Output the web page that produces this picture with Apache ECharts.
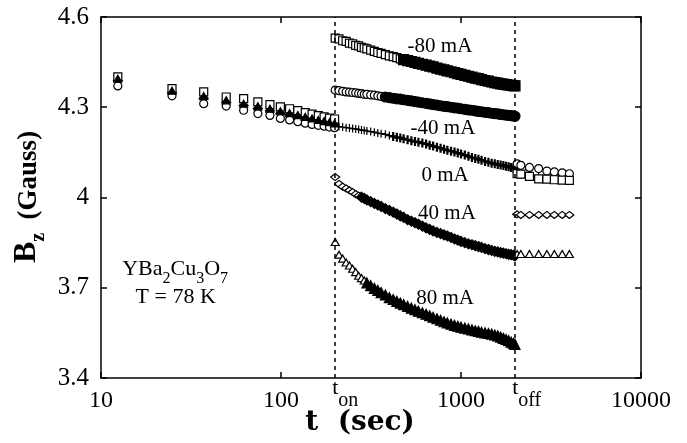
<!DOCTYPE html>
<html>
<head>
<meta charset="utf-8">
<script src="https://cdn.jsdelivr.net/npm/echarts@6/dist/echarts.min.js"></script>
<style>
  html, body { margin: 0; padding: 0; background: #fff; }
  #chart { width: 687px; height: 443px; }
</style>
</head>
<body>
<div id="chart"></div>
<script>
// sample times (sec): before current on, while on, after off
const tPre = [12.4, 24.8, 37.2, 49.6, 62, 74.4, 86.8, 99.2, 111.6, 124, 136.4, 148.8, 161.2, 173.6, 186, 198.4];
const tOn = [200, 210, 220, 230, 240, 250, 260, 270, 280, 290, 300, 315, 330, 345, 360, 380, 400, 420, 440, 460,
  480, 505, 530, 555, 580, 610, 640, 670, 700, 735, 770, 805, 840, 880, 920, 960, 1000, 1050, 1100, 1150,
  1200, 1250, 1300, 1360, 1420, 1480, 1540, 1600, 1660, 1720, 1780, 1840, 1900, 1960, 1995];
const tOff = [2050, 2150, 2400, 2700, 3000, 3300, 3650, 4000];
const tSwitch = [200, 2000]; // t_on, t_off

// Bz (Gauss) for -80 mA (squares)
const m80Pre = [4.401, 4.362, 4.351, 4.334, 4.329, 4.318, 4.309, 4.301, 4.295, 4.289, 4.282, 4.277, 4.272, 4.268, 4.264, 4.261];
const m80On = [4.530, 4.527, 4.521, 4.519, 4.513, 4.511, 4.506, 4.504, 4.499, 4.497, 4.494, 4.490, 4.486, 4.482, 4.479, 4.475, 4.471, 4.468, 4.465, 4.461,
  4.458, 4.455, 4.452, 4.449, 4.446, 4.443, 4.440, 4.437, 4.434, 4.430, 4.427, 4.424, 4.421, 4.418, 4.415, 4.412, 4.409, 4.406, 4.403, 4.400,
  4.397, 4.395, 4.392, 4.389, 4.387, 4.384, 4.382, 4.380, 4.378, 4.377, 4.375, 4.374, 4.373, 4.372, 4.371];
const m80Off = [4.079, 4.078, 4.070, 4.062, 4.061, 4.059, 4.058, 4.057];

// -40 mA (circles)
const m40Pre = [4.371, 4.338, 4.312, 4.304, 4.290, 4.279, 4.273, 4.263, 4.258, 4.252, 4.247, 4.243, 4.240, 4.237, 4.234, 4.232];
const m40On = [4.357, 4.355, 4.353, 4.351, 4.350, 4.349, 4.348, 4.346, 4.345, 4.343, 4.343, 4.341, 4.340, 4.338, 4.336, 4.334, 4.332, 4.330, 4.328, 4.327,
  4.325, 4.323, 4.321, 4.319, 4.317, 4.315, 4.313, 4.311, 4.309, 4.307, 4.305, 4.303, 4.302, 4.300, 4.298, 4.297, 4.295, 4.293, 4.291, 4.290,
  4.288, 4.286, 4.285, 4.283, 4.282, 4.280, 4.279, 4.278, 4.276, 4.275, 4.274, 4.273, 4.272, 4.271, 4.270];
const m40Off = [4.112, 4.107, 4.100, 4.096, 4.088, 4.085, 4.082, 4.079];

// 0 mA (plus)
const z0Pre = [4.392, 4.352, 4.334, 4.320, 4.310, 4.300, 4.292, 4.284, 4.277, 4.271, 4.266, 4.260, 4.256, 4.252, 4.248, 4.245];
const z0On = [4.238, 4.236, 4.234, 4.232, 4.231, 4.229, 4.228, 4.226, 4.224, 4.223, 4.221, 4.219, 4.217, 4.214, 4.212, 4.210, 4.206, 4.203, 4.200, 4.198,
  4.195, 4.192, 4.189, 4.186, 4.184, 4.181, 4.178, 4.174, 4.171, 4.167, 4.164, 4.160, 4.157, 4.154, 4.151, 4.148, 4.145, 4.141, 4.137, 4.133,
  4.130, 4.127, 4.124, 4.120, 4.117, 4.114, 4.112, 4.110, 4.108, 4.106, 4.104, 4.102, 4.100, 4.098, 4.097];
const z0Off = [4.090, 4.085, 4.075, 4.070, 4.065, 4.063, 4.062, 4.055];

// 40 mA (diamonds)
const p40Pre = [4.388, 4.348, 4.330, 4.316, 4.306, 4.296, 4.288, 4.280, 4.274, 4.268, 4.262, 4.257, 4.252, 4.248, 4.244, 4.241];
const p40On = [4.068, 4.045, 4.036, 4.030, 4.024, 4.018, 4.011, 4.006, 4.001, 3.997, 3.992, 3.986, 3.980, 3.975, 3.970, 3.963, 3.957, 3.951, 3.945, 3.939,
  3.934, 3.926, 3.921, 3.916, 3.911, 3.905, 3.899, 3.894, 3.889, 3.884, 3.880, 3.876, 3.872, 3.867, 3.862, 3.858, 3.854, 3.850, 3.846, 3.843,
  3.840, 3.837, 3.834, 3.830, 3.827, 3.824, 3.821, 3.819, 3.817, 3.815, 3.813, 3.811, 3.810, 3.808, 3.806];
const p40Off = [3.944, 3.942, 3.942, 3.942, 3.942, 3.942, 3.942, 3.942];

// 80 mA (triangles)
const p80Pre = [4.395, 4.355, 4.337, 4.323, 4.312, 4.303, 4.295, 4.287, 4.280, 4.274, 4.268, 4.263, 4.258, 4.254, 4.250, 4.246];
const p80On = [3.852, 3.810, 3.797, 3.784, 3.774, 3.763, 3.752, 3.740, 3.732, 3.724, 3.716, 3.707, 3.698, 3.691, 3.684, 3.676, 3.667, 3.661, 3.655, 3.649,
  3.644, 3.638, 3.632, 3.627, 3.622, 3.617, 3.612, 3.607, 3.602, 3.597, 3.592, 3.587, 3.583, 3.579, 3.575, 3.572, 3.569, 3.566, 3.563, 3.560,
  3.557, 3.555, 3.552, 3.550, 3.548, 3.546, 3.543, 3.540, 3.536, 3.532, 3.528, 3.524, 3.519, 3.515, 3.512];
const p80Off = [3.812, 3.812, 3.812, 3.812, 3.812, 3.812, 3.812, 3.812];

const xTicks = [10, 100, 1000, 10000];
const yTicks = [3.4, 3.7, 4.0, 4.3, 4.6];

const serif = '"Liberation Serif", "Times New Roman", serif';
const plus = 'path://M0,5L10,5M5,0L5,10';

// dense part of each curve is drawn as solid marks (overlapping symbols in the original)
function pts(ts, vs, denseFrom, denseStyle, denseSize) {
  return ts.map((t, i) => {
    const p = { value: [t, vs[i]] };
    if (denseFrom != null && t >= denseFrom) {
      p.itemStyle = denseStyle;
      p.symbolSize = denseSize;
    }
    return p;
  });
}

function curve(name, symbol, size, pre, on, off, denseFrom, preFilled) {
  const isPlus = symbol === plus;
  const denseStyle = isPlus ? { borderWidth: 2.2 } : { color: '#000' };
  return {
    name: name,
    type: 'scatter',
    symbol: symbol,
    symbolSize: size,
    itemStyle: { color: '#fff', borderColor: '#000', borderWidth: 1.2, opacity: 1 },
    data: pts(tPre, pre, preFilled ? 0 : null, { color: '#000' }, size)
      .concat(pts(tOn, on, denseFrom, denseStyle, isPlus ? 9 : 10), pts(tOff, off)),
    emphasis: { disabled: true }
  };
}

const series = [
  curve('40 mA', 'diamond', [9, 7], p40Pre, p40On, p40Off, 280, false),
  curve('0 mA', plus, 8, z0Pre, z0On, z0Off, 420, false),
  curve('-40 mA', 'circle', 8, m40Pre, m40On, m40Off, 380, false),
  curve('-80 mA', 'rect', 8, m80Pre, m80On, m80Off, 480, false),
  curve('80 mA', 'triangle', [8, 7], p80Pre, p80On, p80Off, 300, true)
];
series[0].markLine = {
  silent: true,
  symbol: 'none',
  label: { show: false },
  lineStyle: { color: '#000', type: [4, 4], width: 1.5 },
  data: tSwitch.map(t => ({ xAxis: t }))
};

const axisLine = { show: true, onZero: false, lineStyle: { color: '#000', width: 1.5 } };
const tick = { show: true, inside: true, length: 6, lineStyle: { color: '#000', width: 1.5 } };

const option = {
  animation: false,
  backgroundColor: '#fff',
  grid: { left: 101, top: 17, width: 540, height: 361 },
  xAxis: [
    {
      type: 'log', logBase: 10, min: xTicks[0], max: xTicks[xTicks.length - 1],
      axisLine: axisLine, axisTick: tick, splitLine: { show: false }, minorTick: { show: false },
      axisLabel: {
        margin: 11, color: '#000', fontFamily: serif, fontSize: 24,
        formatter: v => String(Math.round(v))
      }
    },
    {
      type: 'log', logBase: 10, min: xTicks[0], max: xTicks[xTicks.length - 1], position: 'top',
      axisLine: axisLine, axisTick: tick, splitLine: { show: false }, axisLabel: { show: false }
    }
  ],
  yAxis: [
    {
      type: 'value', min: yTicks[0], max: yTicks[yTicks.length - 1], interval: 0.3,
      axisLine: axisLine, axisTick: tick, splitLine: { show: false },
      axisLabel: {
        margin: 12, color: '#000', fontFamily: serif, fontSize: 25,
        formatter: v => String(+v.toFixed(1))
      }
    },
    {
      type: 'value', min: yTicks[0], max: yTicks[yTicks.length - 1], interval: 0.3, position: 'right',
      axisLine: axisLine, axisTick: tick, splitLine: { show: false }, axisLabel: { show: false }
    }
  ],
  series: series
};

const chart = echarts.init(document.getElementById('chart'));
chart.setOption(option);

// annotations placed in data coordinates
const at = (t, b) => chart.convertToPixel({ seriesIndex: 0 }, [t, b]);
function note(text, t, b, extra) {
  const p = at(t, b);
  return {
    type: 'text', x: p[0], y: p[1], z: 100,
    style: Object.assign({
      text: text, fill: '#000', font: '21px ' + serif,
      textAlign: 'center', textVerticalAlign: 'middle', align: 'center', verticalAlign: 'middle'
    }, extra || {})
  };
}
const sub = {
  m: { fontFamily: serif, fontSize: 22, color: '#000', padding: [0, 0, 6, 0], verticalAlign: 'bottom' },
  s: { fontFamily: serif, fontSize: 16, color: '#000', verticalAlign: 'bottom' }
};
const graphics = [
  note('-80 mA', 764, 4.503),
  note('-40 mA', 794, 4.23),
  note('0 mA', 815, 4.073),
  note('40 mA', 836, 3.947),
  note('80 mA', 815, 3.663),
  note('{m|YBa}{s|2}{m|Cu}{s|3}{m|O}{s|7}', 25.8, 3.75, { rich: sub }),
  note('T = 78 K', 26, 3.667, { font: '22px ' + serif })
];
// t_on / t_off tick labels
[['on', tSwitch[0]], ['off', tSwitch[1]]].forEach(([s, t]) => {
  const p = at(t, yTicks[0]);
  graphics.push({
    type: 'text', x: p[0] - 3, y: p[1] + 16,
    style: {
      text: '{m|t}{s|' + s + '}', textAlign: 'left', align: 'left',
      textVerticalAlign: 'middle', verticalAlign: 'middle',
      rich: {
        m: { fontFamily: serif, fontSize: 22, color: '#000', padding: [0, 0, 12, 0], verticalAlign: 'bottom' },
        s: { fontFamily: serif, fontSize: 20, color: '#000', verticalAlign: 'bottom' }
      }
    }
  });
});
// axis titles
graphics.push({
  type: 'text', x: 360, y: 423,
  style: {
    text: 't  (sec)', font: 'bold 28px "DejaVu Serif", serif', fill: '#000',
    textAlign: 'center', align: 'center', textVerticalAlign: 'middle', verticalAlign: 'middle'
  }
});
graphics.push({
  type: 'text', x: 30, y: 197, rotation: Math.PI / 2,
  style: {
    text: '{b|B}{z|z}{g|  (Gauss)}',
    textAlign: 'center', align: 'center', textVerticalAlign: 'middle', verticalAlign: 'middle',
    rich: {
      b: { fontFamily: serif, fontWeight: 'bold', fontSize: 32, color: '#000', padding: [0, 0, 6, 0], verticalAlign: 'bottom' },
      z: { fontFamily: serif, fontWeight: 'bold', fontSize: 20, color: '#000', verticalAlign: 'bottom' },
      g: { fontFamily: serif, fontWeight: 'bold', fontSize: 27, color: '#000', padding: [0, 0, 6, 0], verticalAlign: 'bottom' }
    }
  }
});
chart.setOption({ graphic: graphics });
</script>
</body>
</html>
